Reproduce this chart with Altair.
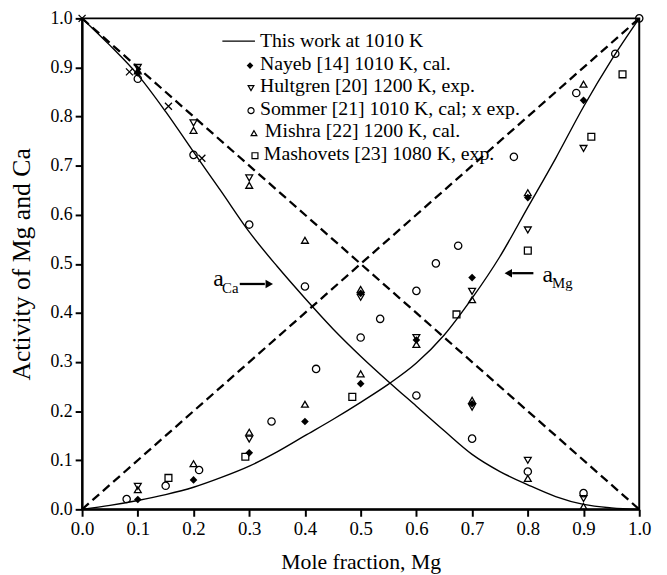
import altair as alt
import pandas as pd

FONT = "Liberation Serif"

# ---- data ----
curve_x = [0.0, 0.05, 0.1, 0.15, 0.2, 0.25, 0.3, 0.35, 0.4, 0.45, 0.5,
           0.55, 0.6, 0.65, 0.7, 0.75, 0.8, 0.85, 0.9, 0.95, 1.0]
a_ca = [1.0, 0.945, 0.885, 0.81, 0.728, 0.647, 0.565, 0.495, 0.43, 0.368, 0.312,
        0.26, 0.21, 0.16, 0.112, 0.077, 0.05, 0.026, 0.01, 0.003, 0.0]
a_mg = [0.0, 0.008, 0.018, 0.03, 0.045, 0.065, 0.088, 0.117, 0.15, 0.183, 0.218,
        0.255, 0.298, 0.355, 0.43, 0.515, 0.615, 0.715, 0.82, 0.915, 1.0]

raoult_x = [0.0, 1.0]
raoult_mg = [0.0, 1.0]
raoult_ca = [1.0, 0.0]

nayeb_x = [0.1, 0.2, 0.3, 0.4, 0.5, 0.6, 0.7, 0.8, 0.9, 0.1, 0.5, 0.7]
nayeb_y = [0.02, 0.06, 0.115, 0.179, 0.256, 0.345, 0.472, 0.635, 0.833, 0.889, 0.44, 0.215]

hult_x = [0.1, 0.3, 0.6, 0.7, 0.8, 0.9, 0.1, 0.2, 0.3, 0.5, 0.7, 0.8, 0.9]
hult_y = [0.047, 0.143, 0.35, 0.444, 0.569, 0.735, 0.9, 0.787, 0.675, 0.432, 0.208, 0.1, 0.022]

sommer_x = [0.08, 0.1, 0.15, 0.2, 0.21, 0.3, 0.34, 0.4, 0.42, 0.5, 0.535, 0.6, 0.6,
            0.635, 0.675, 0.7, 0.775, 0.8, 0.887, 0.9, 0.957, 1.0]
sommer_y = [0.021, 0.877, 0.048, 0.722, 0.08, 0.58, 0.179, 0.454, 0.286, 0.35, 0.388,
            0.445, 0.232, 0.501, 0.537, 0.144, 0.718, 0.077, 0.848, 0.033, 0.928, 1.0]

sommer_exp_x = [0.0, 0.085, 0.155, 0.215]
sommer_exp_y = [1.0, 0.891, 0.821, 0.715]

mishra_x = [0.1, 0.2, 0.3, 0.4, 0.5, 0.6, 0.7, 0.8, 0.9,
            0.1, 0.2, 0.3, 0.4, 0.5, 0.7, 0.8, 0.9]
mishra_y = [0.04, 0.093, 0.157, 0.214, 0.276, 0.336, 0.427, 0.645, 0.866,
            0.893, 0.772, 0.66, 0.548, 0.448, 0.222, 0.063, 0.006]

mash_x = [0.155, 0.293, 0.485, 0.672, 0.8, 0.914, 0.97]
mash_y = [0.064, 0.107, 0.229, 0.397, 0.527, 0.759, 0.886]

tick_values = [0.0, 0.1, 0.2, 0.3, 0.4, 0.5, 0.6, 0.7, 0.8, 0.9, 1.0]

legend_labels = [
    "This work at 1010 K",
    "Nayeb [14] 1010 K, cal.",
    "Hultgren [20] 1200 K, exp.",
    "Sommer [21] 1010 K, cal; x exp.",
    "Mishra [22] 1200 K, cal.",
    "Mashovets [23] 1080 K, exp.",
]

# ---- chart ----
CROSS = "M-1,-1L1,1M-1,1L1,-1"

xscale = alt.Scale(domain=[0, 1], nice=False, zero=False)
yscale = alt.Scale(domain=[0, 1], nice=False, zero=False)

common_axis = dict(
    values=tick_values, format=".1f", grid=False, tickSize=7, tickWidth=2,
    domainWidth=2, domainColor="black", tickColor="black",
    labelFont=FONT, labelColor="black", labelOverlap=False,
    labelFlush=False, titleFont=FONT, titleFontWeight="normal",
    titleColor="black",
)
xaxis = alt.Axis(title="Mole fraction, Mg", labelFontSize=19, titleFontSize=22,
                 labelPadding=3, titlePadding=14, **common_axis)
yaxis = alt.Axis(title="Activity of Mg and Ca", labelFontSize=18, titleFontSize=26,
                 labelPadding=3, titlePadding=16, **common_axis)


def XY(xf="x", yf="y"):
    return dict(x=alt.X(f"{xf}:Q", scale=xscale, axis=xaxis),
                y=alt.Y(f"{yf}:Q", scale=yscale, axis=yaxis))


raoult_df = pd.DataFrame({
    "x": raoult_x + raoult_x,
    "y": raoult_mg + raoult_ca,
    "s": ["Mg"] * len(raoult_x) + ["Ca"] * len(raoult_x),
})
curve_df = pd.DataFrame({
    "x": curve_x + curve_x,
    "y": a_mg + a_ca,
    "s": ["Mg"] * len(curve_x) + ["Ca"] * len(curve_x),
})

dashed = alt.Chart(raoult_df).mark_line(
    color="black", strokeWidth=2.3, strokeDash=[9, 5]
).encode(detail="s:N", **XY())

curves = alt.Chart(curve_df).mark_line(
    color="black", strokeWidth=1.4, interpolate="monotone"
).encode(detail="s:N", **XY())


def pts(xv, yv, shape, filled, size):
    df = pd.DataFrame({"x": xv, "y": yv})
    return alt.Chart(df).mark_point(
        shape=shape, filled=filled, size=size, color="black",
        strokeWidth=1.3, opacity=1
    ).encode(**XY())


layers = [dashed, curves,
          pts(sommer_x, sommer_y, "circle", False, 55),
          pts(mash_x, mash_y, "square", False, 48),
          pts(hult_x, hult_y, "triangle-down", False, 48),
          pts(mishra_x, mishra_y, "triangle-up", False, 48),
          pts(nayeb_x, nayeb_y, "diamond", True, 60),
          pts(sommer_exp_x, sommer_exp_y, CROSS, False, 50)]

# annotations a_Ca and a_Mg
dummy = pd.DataFrame({"d": [0]})


def txt(x, y, s, size):
    return alt.Chart(dummy).mark_text(
        font=FONT, fontSize=size, color="black", align="center", baseline="middle"
    ).encode(x=alt.datum(x, scale=xscale), y=alt.datum(y, scale=yscale), text=alt.value(s))


def arrow(x1, x2, y, head_x, head_shape):
    r = alt.Chart(dummy).mark_rule(color="black", strokeWidth=2.3).encode(
        x=alt.datum(x1, scale=xscale), x2=alt.datum(x2), y=alt.datum(y, scale=yscale))
    h = alt.Chart(dummy).mark_point(
        shape=head_shape, filled=True, size=75, color="black", opacity=1
    ).encode(x=alt.datum(head_x, scale=xscale), y=alt.datum(y, scale=yscale))
    return [r, h]


layers += [txt(0.245, 0.468, "a", 24), txt(0.266, 0.451, "Ca", 15)]
layers += arrow(0.283, 0.328, 0.459, 0.336, "triangle-right")
layers += [txt(0.836, 0.478, "a", 24), txt(0.862, 0.461, "Mg", 15)]
layers += arrow(0.772, 0.810, 0.481, 0.765, "triangle-left")

# manual legend (pixel positions inside the plot area)
row_y = [23 + i * 22.8 for i in range(len(legend_labels))]
text_x = [180, 180, 180, 180, 185, 184]
sym_x = [None, 170, 171, 171, 174, 175]
sym_shape = [None, "diamond", "triangle-down", "circle", "triangle-up", "square"]
sym_fill = [None, True, False, False, False, False]
sym_size = [None, 45, 34, 38, 34, 36]

layers.append(alt.Chart(dummy).mark_rule(color="black", strokeWidth=1.4).encode(
    x=alt.value(142), x2=alt.value(175), y=alt.value(row_y[0])))
for i, lab in enumerate(legend_labels):
    layers.append(alt.Chart(dummy).mark_text(
        font=FONT, fontSize=20, color="black", align="left", baseline="middle"
    ).encode(x=alt.value(text_x[i]), y=alt.value(row_y[i]), text=alt.value(lab)))
    if sym_shape[i]:
        layers.append(alt.Chart(dummy).mark_point(
            shape=sym_shape[i], filled=sym_fill[i], size=sym_size[i], color="black",
            strokeWidth=1.2, opacity=1
        ).encode(x=alt.value(sym_x[i]), y=alt.value(row_y[i] + 2)))

chart = alt.layer(*layers).properties(
    width=564, height=497,
    autosize=alt.AutoSizeParams(type="none"),
    padding={"left": 75, "top": 7, "right": 20, "bottom": 65},
    background="white",
).configure_view(stroke="black", strokeWidth=2)

chart.save("out.html", embed_options={"renderer": "svg", "actions": False})
